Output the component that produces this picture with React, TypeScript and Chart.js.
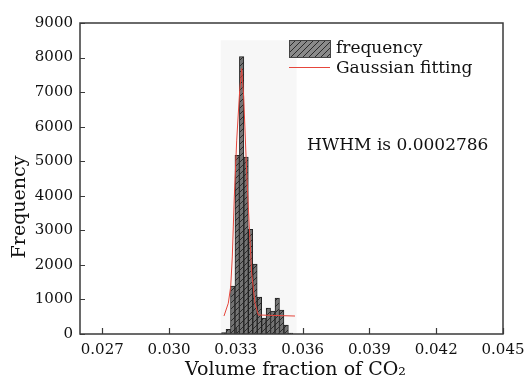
import React, { useEffect, useRef } from 'react';
import { Chart, registerables } from 'chart.js';

Chart.register(...registerables);

// ---- data ----
const binCenters = [0.03246, 0.03266, 0.03286, 0.03306, 0.03326, 0.03346, 0.03366, 0.03386, 0.03406, 0.03426, 0.03446, 0.03466, 0.03486, 0.03506, 0.03526, 0.03546];
const frequency = [40, 135, 1390, 5170, 8030, 5120, 3030, 2020, 1070, 460, 750, 660, 1040, 690, 260, 30];

const fitX = [0.032468, 0.032661, 0.032769, 0.032841, 0.032886, 0.032931, 0.033039, 0.033173, 0.033263, 0.033353, 0.033488, 0.033605, 0.033712, 0.033861, 0.034009, 0.035657];
const fitY = [520, 890, 1370, 2230, 3100, 3970, 5610, 7050, 7680, 6860, 4640, 3100, 1750, 890, 550, 520];

const xTicks = [0.027, 0.030, 0.033, 0.036, 0.039, 0.042, 0.045];
const yTicks = [0, 1000, 2000, 3000, 4000, 5000, 6000, 7000, 8000, 9000];
const xRange = [0.026, 0.045];
const yRange = [0, 9000];
const shadeX = [0.03232, 0.03573];
const shadeTop = [8500];

const xTitle = 'Volume fraction of CO\u2082';
const yTitle = 'Frequency';
const legendLabels = ['frequency', 'Gaussian fitting'];
const note = 'HWHM is 0.0002786';

const FONT = '"DejaVu Serif", serif';
const RED = 'rgb(230,70,60)';

function makeHatch(bg: string): CanvasPattern | string {
  const c = document.createElement('canvas');
  c.width = 6;
  c.height = 6;
  const g = c.getContext('2d');
  if (!g) return bg;
  g.fillStyle = bg;
  g.fillRect(0, 0, 6, 6);
  g.strokeStyle = '#2a2a2a';
  g.lineWidth = 1;
  g.beginPath();
  g.moveTo(0, 6);
  g.lineTo(6, 0);
  g.moveTo(-1, 1);
  g.lineTo(1, -1);
  g.moveTo(5, 7);
  g.lineTo(7, 5);
  g.stroke();
  const p = g.createPattern(c, 'repeat');
  return p || bg;
}

export default function App() {
  const ref = useRef<HTMLCanvasElement>(null);

  useEffect(() => {
    document.body.style.margin = '0';
    const canvas = ref.current;
    if (!canvas) return;
    const barFill = makeHatch('#747474');
    const legendFill = makeHatch('#8a8a8a');

    const decor = {
      id: 'decor',
      beforeDatasetsDraw(chart: any) {
        const { ctx } = chart;
        const xs = chart.scales.x;
        const ys = chart.scales.y;
        ctx.save();
        ctx.fillStyle = '#f7f7f7';
        const x0 = xs.getPixelForValue(shadeX[0]);
        const x1 = xs.getPixelForValue(shadeX[1]);
        const y0 = ys.getPixelForValue(shadeTop[0]);
        const y1 = ys.getPixelForValue(0);
        ctx.fillRect(x0, y0, x1 - x0, y1 - y0);
        ctx.restore();
      },
      afterDraw(chart: any) {
        const { ctx, chartArea: a } = chart;
        const xs = chart.scales.x;
        const ys = chart.scales.y;
        ctx.save();
        // frame
        ctx.strokeStyle = '#3a3a3a';
        ctx.lineWidth = 1.5;
        ctx.strokeRect(a.left, a.top, a.right - a.left, a.bottom - a.top);
        // inward ticks
        ctx.lineWidth = 1.2;
        ctx.beginPath();
        xTicks.forEach((v) => {
          const px = Math.round(xs.getPixelForValue(v)) + 0.5;
          ctx.moveTo(px, a.bottom);
          ctx.lineTo(px, a.bottom - 6);
        });
        yTicks.forEach((v) => {
          const py = Math.round(ys.getPixelForValue(v)) + 0.5;
          ctx.moveTo(a.left, py);
          ctx.lineTo(a.left + 5, py);
        });
        ctx.stroke();

        // legend
        ctx.fillStyle = legendFill as any;
        ctx.fillRect(289, 40, 41, 17);
        ctx.strokeStyle = '#444';
        ctx.lineWidth = 1;
        ctx.strokeRect(289.5, 40.5, 41, 17);
        ctx.strokeStyle = RED;
        ctx.lineWidth = 1.2;
        ctx.beginPath();
        ctx.moveTo(289, 67.5);
        ctx.lineTo(330, 67.5);
        ctx.stroke();
        ctx.fillStyle = '#111';
        ctx.font = '17px ' + FONT;
        ctx.textAlign = 'left';
        ctx.textBaseline = 'middle';
        ctx.fillText(legendLabels[0], 336, 49);
        ctx.fillText(legendLabels[1], 336, 69);
        ctx.fillText(note, 307, 146);

        // axis titles
        ctx.font = '19px ' + FONT;
        ctx.textAlign = 'center';
        ctx.fillText(xTitle, (a.left + a.right) / 2 + 4, 370);
        ctx.translate(20, 207);
        ctx.rotate(-Math.PI / 2);
        ctx.fillText(yTitle, 0, 0);
        ctx.restore();
      },
    };

    const chart = new Chart(canvas, {
      type: 'bar',
      data: {
        datasets: [
          {
            type: 'line',
            label: legendLabels[1],
            data: fitX.map((x, i) => ({ x, y: fitY[i] })),
            borderColor: RED,
            borderWidth: 1,
            pointRadius: 0,
            tension: 0,
            fill: false,
            order: 0,
          } as any,
          {
            type: 'bar',
            label: legendLabels[0],
            data: binCenters.map((x, i) => ({ x, y: frequency[i] })),
            backgroundColor: barFill as any,
            borderColor: '#222',
            borderWidth: 1,
            barPercentage: 1,
            categoryPercentage: 1,
            order: 1,
          } as any,
        ],
      },
      options: {
        responsive: false,
        animation: false,
        devicePixelRatio: 1,
        layout: { padding: { left: 0, top: 23, right: 22, bottom: 0 } },
        plugins: { legend: { display: false }, tooltip: { enabled: false } },
        scales: {
          x: {
            type: 'linear',
            offset: false,
            min: xRange[0],
            max: xRange[1],
            afterBuildTicks: (s: any) => {
              s.ticks = xTicks.map((v) => ({ value: v }));
            },
            afterFit: (s: any) => {
              s.height = 49;
              s.paddingLeft = 0;
              s.paddingRight = 0;
            },
            grid: { display: false, drawTicks: false, offset: false },
            border: { display: false },
            ticks: {
              color: '#111',
              font: { family: FONT, size: 15 },
              padding: 7,
              maxRotation: 0,
              autoSkip: false,
              callback: (v: any) => Number(v).toFixed(3),
            },
          },
          y: {
            type: 'linear',
            min: yRange[0],
            max: yRange[1],
            afterBuildTicks: (s: any) => {
              s.ticks = yTicks.map((v) => ({ value: v }));
            },
            afterFit: (s: any) => {
              s.width = 80;
              s.paddingTop = 0;
              s.paddingBottom = 0;
            },
            grid: { display: false, drawTicks: false },
            border: { display: false },
            ticks: {
              color: '#111',
              font: { family: FONT, size: 15 },
              padding: 7,
              autoSkip: false,
              callback: (v: any) => String(v),
            },
          },
        },
      },
      plugins: [decor],
    });
    return () => chart.destroy();
  }, []);

  return (
    <div style={{ width: 525, height: 383, position: 'relative' }}>
      <canvas ref={ref} width={525} height={383} style={{ display: 'block' }} />
    </div>
  );
}
